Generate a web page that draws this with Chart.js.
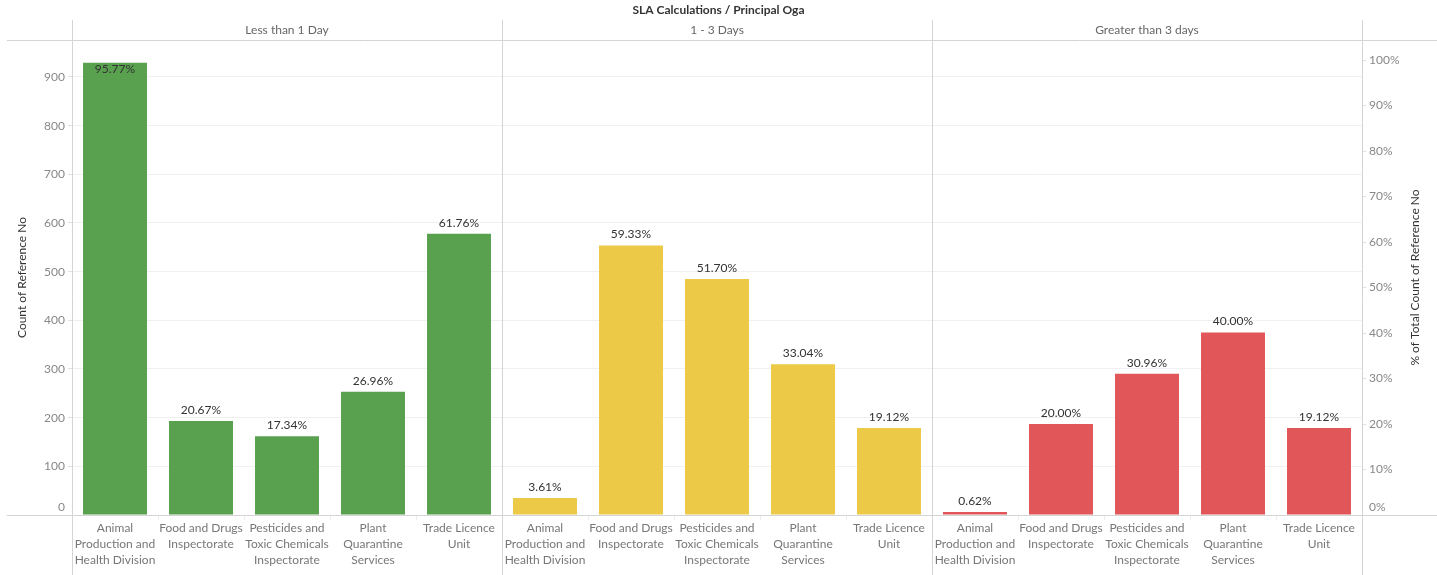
<!DOCTYPE html>
<html>
<head>
<meta charset="utf-8">
<script src="https://cdn.jsdelivr.net/npm/chart.js@4/dist/chart.umd.min.js"></script>
<style>
  html, body { margin: 0; padding: 0; background: #fff; }
  canvas { display: block; }
</style>
</head>
<body>
<canvas id="myChart" width="1437" height="575"></canvas>
<script>
// categories (Principal Oga) and SLA buckets
var ogas = [
    ["Animal", "Production and", "Health Division"],
    ["Food and Drugs", "Inspectorate"],
    ["Pesticides and", "Toxic Chemicals", "Inspectorate"],
    ["Plant", "Quarantine", "Services"],
    ["Trade Licence", "Unit"]
];
var slaBuckets = ["Less than 1 Day", "1 - 3 Days", "Greater than 3 days"];
var bucketColors = ["#59a14f", "#edc948", "#e15759"];

// count of reference no, per bucket
var lessThan1Day = [929, 193, 162, 253, 578];
var oneToThreeDays = [35, 554, 485, 310, 179];
var greaterThan3Days = [6, 187, 290, 375, 179];

// % of total count of reference no (label text)
var pctLessThan1Day = [95.77, 20.67, 17.34, 26.96, 61.76];
var pctOneToThreeDays = [3.61, 59.33, 51.70, 33.04, 19.12];
var pctGreaterThan3Days = [0.62, 20.00, 30.96, 40.00, 19.12];

var countTicks = [0, 100, 200, 300, 400, 500, 600, 700, 800, 900];
var pctTicks = [0, 10, 20, 30, 40, 50, 60, 70, 80, 90, 100];

var counts = [lessThan1Day, oneToThreeDays, greaterThan3Days];
var pcts = [pctLessThan1Day, pctOneToThreeDays, pctGreaterThan3Days];

var allLabels = [], allCounts = [], allPcts = [], allColors = [];
for (var b = 0; b < slaBuckets.length; b++) {
    for (var i = 0; i < ogas.length; i++) {
        allLabels.push(ogas[i]);
        allCounts.push(counts[b][i]);
        allPcts.push(pcts[b][i]);
        allColors.push(bucketColors[b]);
    }
}

var FONT = "Lato, 'Noto Sans', sans-serif";
var LINE = "#d4d4d4";

var framePlugin = {
    id: 'frame',
    beforeDatasetsDraw: function(chart) {
        var c = chart.ctx, a = chart.chartArea;
        var W = chart.width, H = chart.height;
        var panelW = (a.right - a.left) / slaBuckets.length;
        c.save();
        c.strokeStyle = LINE;
        c.lineWidth = 1;
        c.beginPath();
        c.moveTo(7, a.top + 0.5); c.lineTo(W, a.top + 0.5);
        for (var p = 0; p <= slaBuckets.length; p++) {
            var px = Math.round(a.left + p * panelW) + 0.5;
            c.moveTo(px, 20); c.lineTo(px, H);
        }
        c.stroke();
        // title + panel headers
        c.fillStyle = "#333";
        c.font = "bold 12px " + FONT;
        c.textAlign = "center";
        c.textBaseline = "middle";
        c.fillText("SLA Calculations / Principal Oga", W / 2, 10);
        c.fillStyle = "#666";
        c.font = "12px " + FONT;
        for (var p = 0; p < slaBuckets.length; p++) {
            c.fillText(slaBuckets[p], a.left + (p + 0.5) * panelW, 30);
        }
        // axis titles
        c.fillStyle = "#333";
        c.save();
        c.translate(22, (a.top + a.bottom) / 2);
        c.rotate(-Math.PI / 2);
        c.fillText("Count of Reference No", 0, 0);
        c.restore();
        c.save();
        c.translate(1415, (a.top + a.bottom) / 2);
        c.rotate(-Math.PI / 2);
        c.fillText("% of Total Count of Reference No", 0, 0);
        c.restore();
        c.restore();
    },
    afterDraw: function(chart) {
        var c = chart.ctx, a = chart.chartArea;
        c.save();
        c.strokeStyle = LINE;
        c.lineWidth = 1;
        c.beginPath();
        c.moveTo(7, Math.round(a.bottom) + 0.5);
        c.lineTo(chart.width, Math.round(a.bottom) + 0.5);
        c.stroke();
        // percent labels
        var meta = chart.getDatasetMeta(0);
        c.fillStyle = "#333";
        c.font = "12px " + FONT;
        c.textAlign = "center";
        c.textBaseline = "middle";
        meta.data.forEach(function(bar, idx) {
            var txt = allPcts[idx].toFixed(2) + "%";
            var ty = bar.y - 11;
            if (bar.y - a.top < 30) ty = bar.y + 6;
            c.fillText(txt, bar.x, ty);
        });
        c.restore();
    }
};

var ctx = document.getElementById("myChart");
var myChart = new Chart(ctx, {
    type: 'bar',
    data: {
        labels: allLabels,
        datasets: [{
            label: "Count of Reference No",
            data: allCounts,
            backgroundColor: allColors,
            borderWidth: 0,
            categoryPercentage: 1,
            barPercentage: 0.744,
            yAxisID: 'y'
        }]
    },
    options: {
        responsive: false,
        animation: false,
        layout: { padding: { top: 40, left: 0, right: 0, bottom: 0 } },
        plugins: { legend: { display: false }, tooltip: { enabled: false } },
        scales: {
            x: {
                offset: true,
                border: { display: false },
                grid: { offset: true, drawOnChartArea: false, drawTicks: true, tickLength: 5, tickColor: "#ececec" },
                ticks: {
                    autoSkip: false, maxRotation: 0, minRotation: 0, padding: 0,
                    color: "#777", font: { family: FONT, size: 12, lineHeight: 1.35 }
                },
                afterFit: function(s) { s.height = 60; }
            },
            y: {
                position: 'left',
                min: 0,
                max: 976,
                border: { display: false },
                grid: { color: "#f0f0f0", tickColor: "#e0e0e0", tickLength: 4 },
                ticks: {
                    stepSize: 100, padding: 3, color: "#888",
                    font: { family: FONT, size: 12, lineHeight: 1.3 },
                    // keep the zero label above the baseline
                    callback: function(v) { return v === 0 ? ["0", ""] : String(v); }
                },
                afterBuildTicks: function(s) {
                    s.ticks = countTicks.map(function(v) { return { value: v }; });
                },
                afterFit: function(s) { s.width = 72; }
            },
            y1: {
                position: 'right',
                min: 0,
                max: 104.4,
                border: { display: false },
                grid: { drawOnChartArea: false, tickColor: "#e0e0e0", tickLength: 4 },
                ticks: {
                    stepSize: 10, padding: 3, color: "#888",
                    font: { family: FONT, size: 12, lineHeight: 1.3 },
                    callback: function(v) { return v === 0 ? ["0%", ""] : v + "%"; }
                },
                afterBuildTicks: function(s) {
                    s.ticks = pctTicks.map(function(v) { return { value: v }; });
                },
                afterFit: function(s) { s.width = 75; }
            }
        }
    },
    plugins: [framePlugin]
});
</script>
</body>
</html>
